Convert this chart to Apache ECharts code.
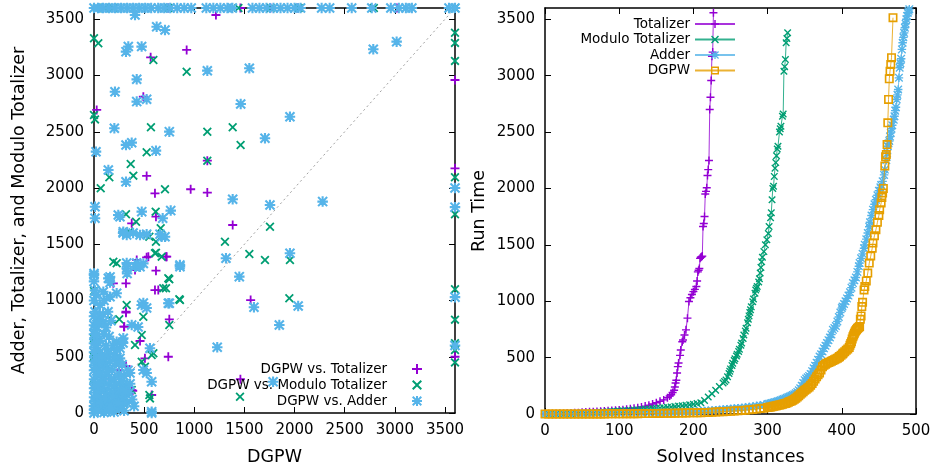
<!DOCTYPE html>
<html>
<head>
<meta charset="utf-8">
<script src="https://cdn.jsdelivr.net/npm/echarts@6/dist/echarts.min.js"></script>
<style>
body { margin: 0; background: #fff; }
#chart { width: 934px; height: 472px; }
</style>
</head>
<body>
<div id="chart"></div>
<script>
// scatter: [DGPW time, other encoding time]
var totalizerVsDgpw = [
    [740,3600],[1460,3600],[1760,3600],[2030,3600],[3020,3600],[3600,3600],[1216,3538],
    [27,2694],[924,3227],[565,3162],[492,2812],[1130,2243],[525,2107],[964,1989],[1130,1959],
    [608,1953],[1383,1671],[618,1745],[376,1686],[542,1390],[725,1390],[426,1360],
    [1562,1004],[741,500],[718,1390],[525,1384],[618,1265],[608,1093],[751,833],[319,900],
    [319,418],[459,640],[508,486],[376,204],[299,767],[193,1153],[409,1271],[575,160],
    [641,1093],[319,1153],[319,892],[302,767],[386,198],[1460,300],[150,300],[250,380],[60,200],
    [3600,2960],[3600,2175],[3600,500]
];
var moduloVsDgpw = [
    [30,3600],[100,3600],[190,3600],[740,3600],[1440,3600],[1760,3600],[2040,3600],[2790,3600],[3600,3600],
    [0,3331],[43,3286],[0,2649],[10,2610],[67,1997],[153,2095],[366,2213],[392,2110],[568,2540],
    [525,2318],[592,3138],[924,3034],[1130,2501],[1130,2243],[1383,2540],[1462,2383],[708,1989],
    [615,1790],[319,1766],[419,1701],[1755,1656],[665,1642],[525,1582],[618,1523],[608,1420],
    [675,1390],[352,1612],[193,1345],
    [1306,1523],[1549,1413],[1705,1360],[1954,1360],[1948,1019],[857,1004],[751,1188],[751,782],
    [1456,145],[558,130],[592,531],[691,1108],[618,1425],[552,1567],[226,1331],[741,1197],
    [718,1108],[851,1011],[326,960],[492,856],[176,827],[0,664],[252,833],[476,693],[476,456],
    [508,412],[575,516],[376,204],[552,160],[193,42],[0,500],[409,604],[0,1085],[0,250],
    [230,210],[120,80],[280,120],[300,80],[60,30],
    [3600,3380],[3600,3290],[3600,3130],[3600,2095],[3600,1766],[3600,1100],[3600,830],
    [3600,620],[3600,560],[3600,450]
];
var adderVsDgpw = [
    [0,3600],[40,3600],[90,3600],[150,3600],[210,3600],[270,3600],[330,3600],[390,3600],
    [450,3600],[510,3600],[570,3600],[640,3600],[700,3600],[760,3600],[830,3600],[900,3600],
    [970,3600],[1120,3600],[1190,3600],[1260,3600],[1330,3600],[1380,3600],[1580,3600],
    [1650,3600],[1720,3600],[1790,3600],[1860,3600],[1930,3600],[2000,3600],[2060,3600],
    [2270,3600],[2350,3600],[2570,3600],[2770,3600],[2960,3600],[3040,3600],[3110,3600],
    [3170,3600],[3540,3600],[3600,3600],
    [409,3538],[625,3434],[708,3405],
    [10,1834],[10,1731],[20,2323],[209,2856],[203,2531],[143,2160],[319,3212],[342,3257],
    [475,3257],[426,2966],[426,2768],[525,2789],[319,2383],[376,2403],[319,2056],[618,2332],
    [751,2501],[476,1790],[242,1760],[259,1745],[685,1731],[765,1799],[1130,3043],[1549,3064],
    [1463,2747],[1954,2634],[1705,2442],[1383,1900],[1755,1849],[2280,1879],[2785,3233],[3018,3301],
    [292,1612],[326,1582],[459,1582],[675,1567],[708,1567],[1954,1420],[1316,1375],[1449,1212],
    [1595,940],[1848,782],[2036,951],[1229,584],[857,1301],[751,975],[575,12],[1786,278],
    [0,1227],[143,1197],[326,1286],[409,1300],[160,1034],[226,1064],[475,960],[741,975],
    [60,856],[93,812],[27,767],[292,664],[259,575],[226,634],[376,782],[558,575],[492,382],
    [575,278],[259,486],[43,560],[857,1316],[575,0],[426,1333],[326,1333],
    [290,1600],[390,1600],[525,1590],[658,1590],[492,1330],[459,1300],[330,1240],[160,1210],
    [160,1160],[93,1078],[492,978],[525,933],[440,765],[290,622],[240,471],[359,355],[525,355],
    [226,145],[259,175],[292,100],[226,60],
    [0,0],[0,30],[0,60],[10,100],[0,140],[20,180],[0,220],[10,260],[0,300],[30,340],[0,380],
    [10,420],[0,460],[20,500],[0,540],[10,580],[0,620],[20,660],[0,700],[10,740],[0,780],
    [30,820],[0,860],[10,900],[0,1000],[10,1090],[0,1170],[0,1240],
    [50,50],[80,30],[120,60],[150,100],[200,80],[250,120],[300,150],[350,180],[280,60],[60,120],
    [100,200],[150,250],[200,300],[250,350],[80,300],[40,400],[120,420],[180,380],[300,330],
    [220,200],[130,150],[90,250],[170,180],[320,250],[60,200],[110,330],[40,250],[160,460],
    [100,480],[220,440],[30,150],[270,280],[340,380],[200,10],[100,5],[150,20],[250,40],[330,90],
    [40,20],[70,90],[110,130],[170,50],[190,140],[240,90],[60,360],[90,420],[130,370],[170,300],
    [210,250],[260,210],[310,200],[360,260],[50,470],[80,520],[140,530],[200,520],[120,600],
    [60,640],[100,700],[150,680],[190,600],[230,560],[280,430],[30,700],[50,800],[90,880],
    [120,760],[170,820],[140,900],[60,960],[100,1000],[20,1050],[380,120],[400,60],[300,20],
    [3600,1830],[3600,2000],[3600,600],[3600,1030]
];
var diagonal = [[0,0],[3600,3600]];

// cactus: [solved instances, run time]
var totalizerRuns = [
    [0,0],[5,1],[10,2],[15,3],[20,4],[25,5],[30,6],[35,8],[40,10],[45,12],[50,15],[55,17],[60,19],
    [65,21],[70,23],[75,25],[80,27],[85,29],[90,31],[95,33],[100,35],[105,38],[110,42],[115,46],
    [120,50],[125,56],[130,62],[135,70],[140,78],[145,88],[150,100],[155,112],[160,125],[165,145],
    [168,160],[170,170],[172,190],[174,210],[175,240],[176,275],[177,300],[178,364],[179,420],
    [180,453],[182,520],[183,568],[185,640],[186,657],[188,700],[190,746],[192,850],[194,997],
    [196,1030],[198,1060],[200,1085],[202,1105],[204,1130],[205,1180],[206,1260],[207,1275],
    [208,1290],[209,1380],[210,1390],[211,1395],[212,1400],[213,1663],[214,1690],[215,1752],
    [216,1950],[217,1974],[218,2007],[219,2114],[220,2167],[221,2247],[222,2700],[223,2809],
    [224,2957],[225,3173],[226,3209],[227,3558]
];
var moduloRuns = [
    [0,0],[5,1],[10,1],[15,2],[20,2],[25,3],[30,4],[35,5],[40,6],[45,7],[50,8],[55,9],[60,11],
    [65,12],[70,14],[75,16],[80,18],[85,20],[90,22],[95,24],[100,26],[105,28],[110,30],[115,32],
    [120,35],[125,37],[130,40],[135,42],[140,45],[145,48],[150,50],[155,53],[160,56],[165,60],
    [170,63],[175,67],[180,70],[185,74],[190,78],[195,82],[200,86],[205,92],[210,100],[215,120],
    [220,150],[225,180],[230,210],[235,243],[240,275],[242,288],[244,302],[246,330],[248,360],
    [249,380],[250,400],[252,430],[253,450],[255,475],[256,490],[258,515],[259,530],[261,555],
    [262,575],[264,610],[265,630],[267,670],[268,700],[270,735],[271,760],[273,810],[274,840],
    [275,870],[276,900],[277,925],[278,950],[280,995],[281,1020],[283,1070],[284,1100],[285,1115],
    [286,1130],[288,1170],[289,1200],[290,1250],[291,1300],[292,1350],[293,1390],[295,1440],
    [297,1500],[299,1545],[301,1600],[302,1663],[304,1740],[305,1785],[306,1900],[307,2000],[308,2019],
    [309,2107],[310,2180],[311,2229],[312,2290],[313,2350],[314,2374],[316,2500],[317,2530],
    [318,2551],[320,2640],[321,2660],[322,3040],[323,3080],[324,3144],[325,3292],[326,3330],[327,3381]
];
var adderRuns = [
    [0,0],[10,0],[20,1],[30,1],[40,2],[50,2],[60,3],[70,3],[80,4],[90,4],[100,5],[110,6],[120,7],
    [130,8],[140,9],[150,10],[155,11],[160,12],[165,13],[170,14],[175,15],[180,16],[185,17],
    [190,18],[195,19],[200,20],[205,22],[210,24],[215,26],[220,28],[225,30],[230,33],[235,36],
    [240,39],[245,42],[250,45],[255,48],[260,51],[265,54],[270,57],[275,61],[280,65],[285,70],
    [290,75],[295,80],[300,88],[302,91],[304,94],[306,97],[308,101],[310,105],[312,109],[314,113],
    [316,118],[318,123],[320,128],[322,133],[324,138],[326,144],[328,150],[330,155],[332,162],
    [334,168],[336,175],[338,185],[340,195],[342,210],[344,228],[346,250],[348,275],[350,300],
    [352,315],[354,325],[356,338],[358,355],[360,380],[362,405],[364,428],[366,455],[368,480],
    [370,509],[372,530],[374,555],[376,582],[378,605],[380,630],[382,655],[384,678],[386,705],
    [388,746],[390,762],[392,780],[394,820],[396,860],[398,900],[400,940],[401,953],[403,975],
    [405,1000],[407,1025],[409,1050],[411,1080],[413,1120],[415,1161],[417,1185],[419,1210],
    [421,1260],[423,1310],[424,1338],[426,1380],[428,1420],[430,1470],[431,1500],[433,1550],
    [435,1605],[437,1660],[438,1700],[440,1760],[442,1812],[444,1860],[446,1900],[448,1940],
    [450,1980],[452,2010],[453,2030],[455,2063],[457,2120],[458,2167],[460,2250],[461,2310],
    [462,2374],[463,2400],[464,2420],[465,2460],[466,2493],[467,2530],[468,2560],[470,2610],
    [471,2640],[472,2690],[473,2720],[474,2789],[475,2830],[476,2877],[477,2981],[478,3070],
    [479,3110],[480,3150],[481,3233],[482,3292],[483,3340],[484,3380],[485,3425],[486,3460],
    [487,3500],[488,3530],[489,3558],[490,3575],[491,3590]
];
var dgpwRuns = [
    [0,0],[5,0],[10,0],[15,0],[20,0],[25,0],[30,0],[35,0],[40,0],[45,1],[50,1],[55,1],[60,1],
    [65,1],[70,1],[75,1],[80,1],[85,2],[90,2],[95,2],[100,2],[105,2],[110,3],[115,3],[120,3],
    [125,3],[130,4],[135,4],[140,4],[145,5],[150,5],[155,5],[160,6],[165,6],[170,7],[175,7],
    [180,8],[185,8],[190,9],[195,10],[200,10],[205,11],[210,12],[215,13],[220,14],[225,16],
    [230,17],[235,19],[240,21],[245,23],[250,25],[255,27],[260,29],[265,31],[270,34],[275,37],
    [280,40],[285,44],[290,48],[295,52],[300,57],[302,60],[304,62],[306,65],[308,68],[310,70],
    [312,73],[314,77],[316,80],[318,83],[320,86],[322,90],[324,93],[326,98],[328,104],[330,110],
    [332,116],[334,122],[336,130],[338,140],[340,150],[342,162],[344,175],[346,186],[348,198],
    [350,210],[352,220],[354,230],[356,240],[358,255],[360,270],[362,290],[364,310],[366,330],
    [368,348],[370,364],[372,390],[374,420],[376,432],[378,442],[380,450],[382,456],[384,462],
    [386,468],[388,474],[390,480],[392,487],[394,495],[396,503],[397,509],[399,520],[401,533],
    [402,540],[404,552],[406,565],[408,577],[410,590],[411,610],[412,625],[413,640],[414,665],
    [415,686],[416,700],[417,715],[418,730],[419,740],[420,750],[421,758],[422,765],[423,770],
    [424,775],[425,840],[426,870],[427,953],[428,990],[430,1100],[431,1130],[433,1180],[435,1250],
    [437,1338],[439,1400],[441,1470],[442,1516],[444,1580],[446,1634],[448,1700],[450,1760],
    [451,1812],[453,1870],[454,1920],[455,1960],[456,2000],[458,2200],[459,2280],[460,2300],
    [461,2389],[462,2582],[463,2789],[464,2972],[465,3040],[466,3099],[467,3159],[469,3514]
];

var scatterNames = ['DGPW vs. Totalizer', 'DGPW vs. Modulo Totalizer', 'DGPW vs. Adder'];
var cactusNames = ['Totalizer', 'Modulo Totalizer', 'Adder', 'DGPW'];
var colors = ['#9400d3', '#009e73', '#56b4e9', '#e69f00'];

var plusPath = 'path://M4,0H6V4H10V6H6V10H4V6H0V4H4Z';
var crossPath = 'path://M0,1.4L1.4,0L5,3.6L8.6,0L10,1.4L6.4,5L10,8.6L8.6,10L5,6.4L1.4,10L0,8.6L3.6,5Z';
var starPath = 'path://M4,0H6V4H10V6H6V10H4V6H0V4H4Z M0,1.4L1.4,0L5,3.6L8.6,0L10,1.4L6.4,5L10,8.6L8.6,10L5,6.4L1.4,10L0,8.6L3.6,5Z';
var thinPlus = 'path://M4.1,0H5.9V4.1H10V5.9H5.9V10H4.1V5.9H0V4.1H4.1Z';
var thinCross = 'path://M0,1.3L1.3,0L5,3.7L8.7,0L10,1.3L6.3,5L10,8.7L8.7,10L5,6.3L1.3,10L0,8.7L3.7,5Z';
var thinStar = 'path://M4.2,0H5.8V4.2H10V5.8H5.8V10H4.2V5.8H0V4.2H4.2Z M0,1.1L1.1,0L5,3.9L8.9,0L10,1.1L6.1,5L10,8.9L8.9,10L5,6.1L1.1,10L0,8.9L3.9,5Z';
var squarePath = 'path://M0,0H10V10H0Z M1.8,1.8V8.2H8.2V1.8Z';

var font = 'DejaVu Sans';

function frameAxis(gridIndex, pos, max, interval, labels, name, gap) {
    return {
        type: 'value',
        gridIndex: gridIndex,
        position: pos,
        min: 0,
        max: max,
        interval: interval,
        name: name,
        nameLocation: 'middle',
        nameGap: gap,
        nameTextStyle: { fontFamily: font, fontSize: 17.5, color: '#000' },
        axisLine: { show: true, onZero: false, lineStyle: { color: '#000', width: 1.5 } },
        axisTick: { show: true, inside: true, length: 6, lineStyle: { color: '#000', width: 1 } },
        axisLabel: { show: labels, showMaxLabel: max % interval === 0, margin: 10,
            fontFamily: font, fontSize: 15, color: '#000',
            formatter: function (v) { return String(v); } },
        splitLine: { show: false }
    };
}

var myChart = echarts.init(document.getElementById('chart'));

var series = [{
    name: 'diag',
    type: 'line',
    xAxisIndex: 0,
    yAxisIndex: 0,
    data: diagonal,
    symbol: 'none',
    silent: true,
    lineStyle: { color: '#a0a0a0', width: 1, type: [2, 3] },
    z: 1
}];
var scatterData = [totalizerVsDgpw, moduloVsDgpw, adderVsDgpw];
var scatterSymbols = [plusPath, crossPath, starPath];
var scatterSizes = [9, 9, 10.5];
for (var i = 0; i < scatterData.length; i++) {
    series.push({
        name: scatterNames[i],
        type: 'scatter',
        xAxisIndex: 0,
        yAxisIndex: 0,
        data: scatterData[i],
        symbol: scatterSymbols[i],
        symbolSize: scatterSizes[i],
        clip: false,
        itemStyle: { color: colors[i], opacity: 1, borderWidth: 0 },
        z: 2 + i
    });
}
var cactusData = [totalizerRuns, moduloRuns, adderRuns, dgpwRuns];
var cactusSymbols = [thinPlus, thinCross, thinStar, squarePath];
var cactusSizes = [8, 7.5, 8.5, 9];
for (var j = 0; j < cactusData.length; j++) {
    series.push({
        name: cactusNames[j],
        type: 'line',
        xAxisIndex: 2,
        yAxisIndex: 2,
        data: cactusData[j],
        symbol: cactusSymbols[j],
        symbolSize: cactusSizes[j],
        showSymbol: true,
        showAllSymbol: true,
        clip: false,
        itemStyle: { color: colors[j], borderWidth: 0 },
        lineStyle: { color: colors[j], width: 1, opacity: 0.8 },
        z: 2 + j
    });
}

var option = {
    animation: false,
    backgroundColor: '#fff',
    grid: [
        { left: 94, right: 479, top: 8, bottom: 59 },
        { left: 545, right: 18, top: 8, bottom: 58 }
    ],
    xAxis: [
        frameAxis(0, 'bottom', 3600, 500, true, 'DGPW', 35),
        frameAxis(0, 'top', 3600, 500, false, '', 0),
        frameAxis(1, 'bottom', 500, 100, true, 'Solved Instances', 34),
        frameAxis(1, 'top', 500, 100, false, '', 0)
    ],
    yAxis: [
        frameAxis(0, 'left', 3600, 500, true, 'Adder, Totalizer, and Modulo Totalizer', 66),
        frameAxis(0, 'right', 3600, 500, false, '', 0),
        frameAxis(1, 'left', 3600, 500, true, 'Run Time', 57),
        frameAxis(1, 'right', 3600, 500, false, '', 0)
    ],
    legend: [{
        data: scatterNames,
        orient: 'vertical',
        align: 'right',
        right: 507,
        top: 357,
        itemWidth: 50,
        itemHeight: 10,
        itemGap: 2,
        selectedMode: false,
        textStyle: { fontFamily: font, fontSize: 13.5, color: '#000' }
    }, {
        data: cactusNames,
        orient: 'vertical',
        align: 'right',
        right: 193,
        top: 12,
        itemWidth: 40,
        itemHeight: 10,
        itemGap: 1.5,
        selectedMode: false,
        textStyle: { fontFamily: font, fontSize: 13.5, color: '#000' }
    }],
    series: series
};
myChart.setOption(option);
</script>
</body>
</html>
